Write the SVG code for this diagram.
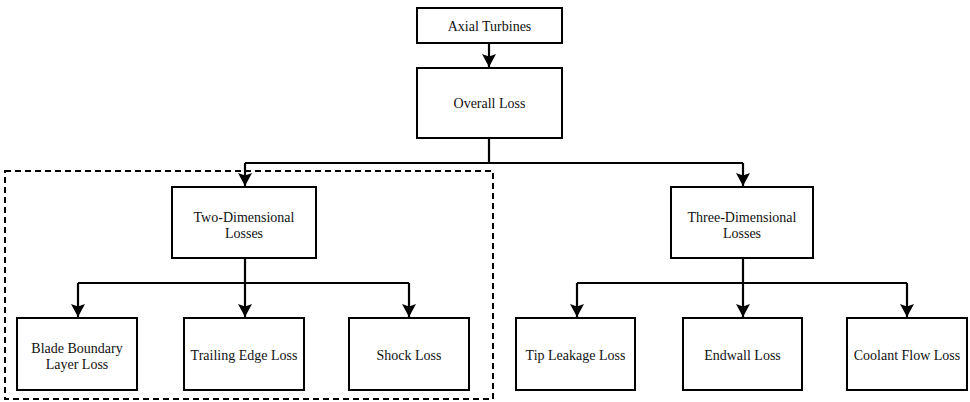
<svg xmlns="http://www.w3.org/2000/svg" width="970" height="402" viewBox="0 0 970 402">
<defs>
<marker id="ah" markerWidth="16" markerHeight="16" refX="13" refY="7" orient="auto" markerUnits="userSpaceOnUse">
<path d="M0,0 L13,7 L0,14 L2.5,7 Z" fill="#000"/>
</marker>
<style>
.box{fill:#fff;stroke:#000;stroke-width:2}
.t{font-family:"Liberation Serif","Times New Roman",serif;font-size:14px;fill:#111;text-anchor:middle}
.c{fill:none;stroke:#000;stroke-width:2.2}
.a{marker-end:url(#ah)}
</style>
</defs>
<rect width="970" height="402" fill="#fff"/>
<rect id="group2d" x="5" y="171" width="488" height="228" fill="none" stroke="#000" stroke-width="2" stroke-dasharray="6,4"/>
<g id="connectors">
<path class="c a" d="M489,43 V67"/>
<path class="c" d="M489,138 V163 M245,163 H743"/>
<path class="c a" d="M245,163 V186"/>
<path class="c a" d="M743,163 V186"/>
<path class="c" d="M245,258 V283 M78,283 H409"/>
<path class="c a" d="M78,283 V317"/>
<path class="c a" d="M245,283 V317"/>
<path class="c a" d="M409,283 V317"/>
<path class="c" d="M743,258 V283 M577,283 H907"/>
<path class="c a" d="M577,283 V317"/>
<path class="c a" d="M743,283 V317"/>
<path class="c a" d="M907,283 V317"/>
</g>
<g id="axial"><rect class="box" x="417" y="8" width="145" height="35"/><text class="t" x="489.5" y="30.5">Axial Turbines</text></g>
<g id="overall"><rect class="box" x="417" y="68" width="145" height="70"/><text class="t" x="489.5" y="108">Overall Loss</text></g>
<g id="twodim"><rect class="box" x="172" y="187" width="144" height="71"/><text class="t" x="244" y="221.5">Two-Dimensional</text><text class="t" x="244" y="237.5">Losses</text></g>
<g id="threedim"><rect class="box" x="671" y="187" width="142" height="71"/><text class="t" x="742" y="221.5">Three-Dimensional</text><text class="t" x="742" y="237.5">Losses</text></g>
<g id="blade"><rect class="box" x="17" y="318" width="120" height="72"/><text class="t" x="77" y="352.5">Blade Boundary</text><text class="t" x="77" y="368.5">Layer Loss</text></g>
<g id="trailing"><rect class="box" x="184" y="318" width="120" height="72"/><text class="t" x="244" y="360">Trailing Edge Loss</text></g>
<g id="shock"><rect class="box" x="349" y="318" width="120" height="72"/><text class="t" x="409" y="360">Shock Loss</text></g>
<g id="tip"><rect class="box" x="516" y="318" width="119" height="72"/><text class="t" x="575.5" y="360">Tip Leakage Loss</text></g>
<g id="endwall"><rect class="box" x="683" y="318" width="119" height="72"/><text class="t" x="742.5" y="360">Endwall Loss</text></g>
<g id="coolant"><rect class="box" x="847" y="318" width="120" height="72"/><text class="t" x="907" y="360">Coolant Flow Loss</text></g>
</svg>
